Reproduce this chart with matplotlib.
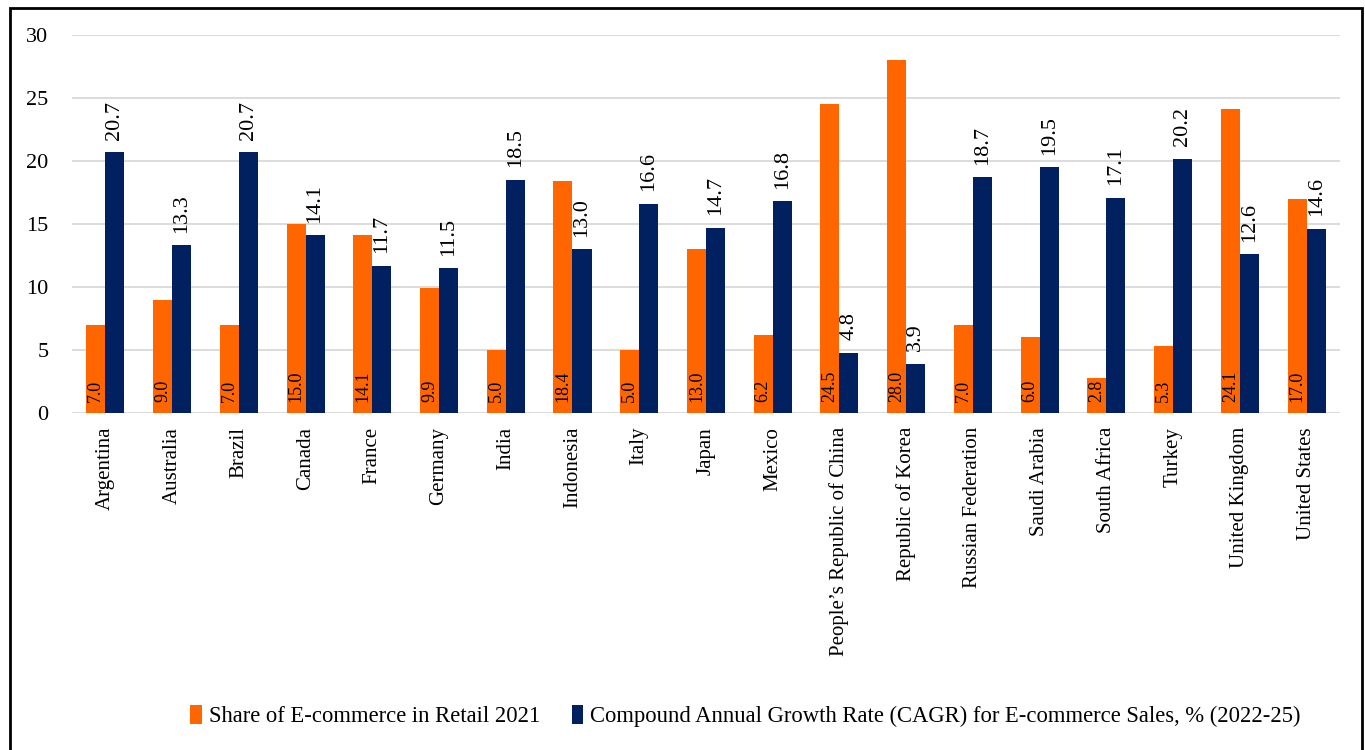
import numpy as np
import matplotlib.pyplot as plt
from matplotlib.patches import Rectangle

plt.rcParams['font.family'] = ['Liberation Serif', 'DejaVu Serif']

# data
countries = ["Argentina", "Australia", "Brazil", "Canada", "France", "Germany",
             "India", "Indonesia", "Italy", "Japan", "Mexico",
             "People\u2019s Republic of China", "Republic of Korea",
             "Russian Federation", "Saudi Arabia", "South Africa", "Turkey",
             "United Kingdom", "United States"]
share_2021 = [7.0, 9.0, 7.0, 15.0, 14.1, 9.9, 5.0, 18.4, 5.0, 13.0, 6.2,
              24.5, 28.0, 7.0, 6.0, 2.8, 5.3, 24.1, 17.0]
cagr = [20.7, 13.3, 20.7, 14.1, 11.7, 11.5, 18.5, 13.0, 16.6, 14.7, 16.8,
        4.8, 3.9, 18.7, 19.5, 17.1, 20.2, 12.6, 14.6]

label_share = "Share of E-commerce in Retail 2021"
label_cagr = "Compound Annual Growth Rate (CAGR) for E-commerce Sales, % (2022-25)"

orange = "#FF6600"
navy = "#002060"

fig = plt.figure(figsize=(13.65, 7.5), dpi=100)
ax = fig.add_axes([0.0527, 0.4493, 0.929, 0.504])

x = np.arange(len(countries))
w = 0.285
b1 = ax.bar(x - w/2, share_2021, w, color=orange, label=label_share, zorder=3)
b2 = ax.bar(x + w/2, cagr, w, color=navy, label=label_cagr, zorder=3)

# labels: orange ones inside at the base, navy ones above the bar
for xi, v in zip(x, share_2021):
    ax.text(xi - w/2, 0.9, f"{v:.1f}", rotation=90, ha='center', va='bottom',
            fontsize=13, color='black', zorder=4)
for xi, v in zip(x, cagr):
    ax.text(xi + w/2, v + 1.0, f"{v:.1f}", rotation=90, ha='center', va='bottom',
            fontsize=16, color='black', zorder=4)

ax.set_xlim(-0.5, len(countries) - 0.5)
ax.set_ylim(0, 30)
ax.set_yticks(np.arange(0, 31, 5))
ax.set_xticks(x)
ax.set_xticklabels(countries, rotation=90, fontsize=15)
ax.tick_params(axis='y', labelsize=16, length=0, pad=17)
ax.tick_params(axis='x', length=0, pad=10)
ax.grid(axis='y', color='#d9d9d9', linewidth=1.3, zorder=0)
for s in ax.spines.values():
    s.set_visible(False)

fig.legend(handles=[b1, b2], loc='center', bbox_to_anchor=(0.546, 0.045), ncol=2,
           frameon=False, fontsize=16.3, handlelength=0.5, handleheight=0.9,
           handletextpad=0.3, columnspacing=1.4)

# outer frame
fig.patches.append(Rectangle((0.007, -0.01), 0.991, 1.0, transform=fig.transFigure,
                             fill=False, edgecolor='black', linewidth=2))

plt.savefig("out.png", dpi=100)
